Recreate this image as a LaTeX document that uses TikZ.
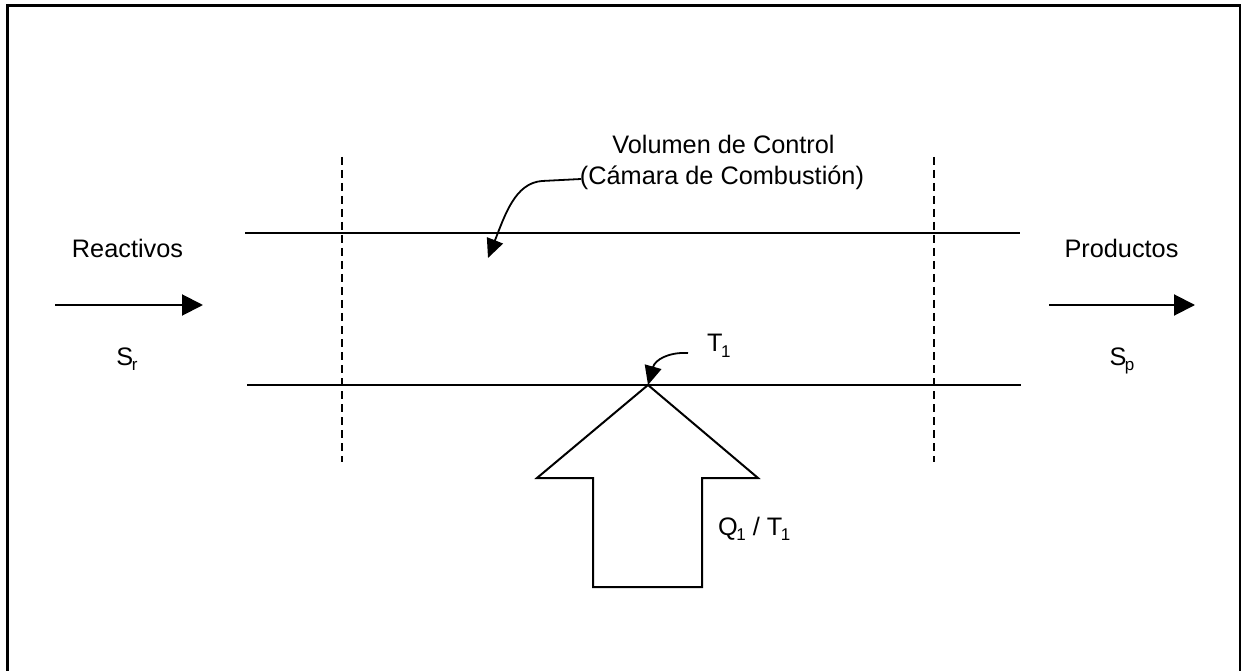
\documentclass[tikz,border=0pt]{standalone}
\usepackage{fontspec}
\setmainfont{Liberation Sans}
\usetikzlibrary{arrows.meta}
\newcommand{\lowsub}[1]{\kern-1.5pt\raisebox{-5.5pt}{\fontsize{17}{17}\selectfont #1}}
\tikzset{
  lbl/.style={font=\fontsize{25.3}{29}\selectfont, inner sep=0pt, anchor=base},
  wall/.style={line width=2pt},
  dashwall/.style={line width=2pt, dash pattern=on 8pt off 5pt},
  flow/.style={line width=2pt, -{Triangle[length=21pt,width=21pt]}},
  pointer/.style={line width=1.8pt, -{Triangle[length=19pt,width=17pt]}},
}
\begin{document}
\begin{tikzpicture}[x=1pt,y=-1pt]
\useasboundingbox (0,0) rectangle (1243,671);
% frame (bottom edge outside the picture)
\draw[line width=2.6pt] (7.5,680) -- (7.5,5.5) -- (1240,5.5) -- (1240,680);
% walls of the chamber
\coordinate (tl) at (245,233); \coordinate (tr) at (1020,233);
\coordinate (bl) at (247,385); \coordinate (br) at (1021,385);
\draw[wall] (tl) -- (tr);
\draw[wall] (bl) -- (br);
% control volume boundaries
\coordinate (d1t) at (342,157); \coordinate (d1b) at (342,462);
\coordinate (d2t) at (934,157); \coordinate (d2b) at (934,462);
\draw[dashwall] (d1t) -- (d1b);
\draw[dashwall] (d2t) -- (d2b);
% inlet
\node[lbl] (reac) at (127.5,258) {Reactivos};
\coordinate (rin) at (55,305); \coordinate (rout) at (203,305);
\draw[flow] (rin) -- (rout);
\node[lbl] (sr) at (127,365) {S\lowsub{r}};
% outlet
\node[lbl] (prod) at (1121.5,258) {Productos};
\coordinate (pin) at (1049,305); \coordinate (pout) at (1195,305);
\draw[flow] (pin) -- (pout);
\node[lbl] (sp) at (1122,365) {S\lowsub{p}};
% control volume label
\node[lbl] (vc1) at (723.5,154) {Volumen de Control};
\node[lbl] (vc2) at (722,185) {(Cámara de Combustión)};
\coordinate (vcs) at (581,179);
\coordinate (vct) at (488,258);
\draw[pointer] (vcs) -- (542,181) .. controls (515,183) and (505,215) .. (vct);
% heat arrow
\coordinate (tip) at (648,385);
\draw[wall, line join=miter] (tip) -- (758,478) -- (702,478) -- (702,587) -- (593,587) -- (593,478) -- (537,478) -- cycle;
\node[lbl, anchor=base west] (q) at (718,535) {Q\lowsub{1} / T\lowsub{1}};
% T1 label
\node[lbl, anchor=base west] (t1) at (707,352) {T\lowsub{1}};
\coordinate (t1s) at (688,353);
\draw[pointer] (t1s) .. controls (668,352) and (655,360) .. (tip);
\end{tikzpicture}
\end{document}
